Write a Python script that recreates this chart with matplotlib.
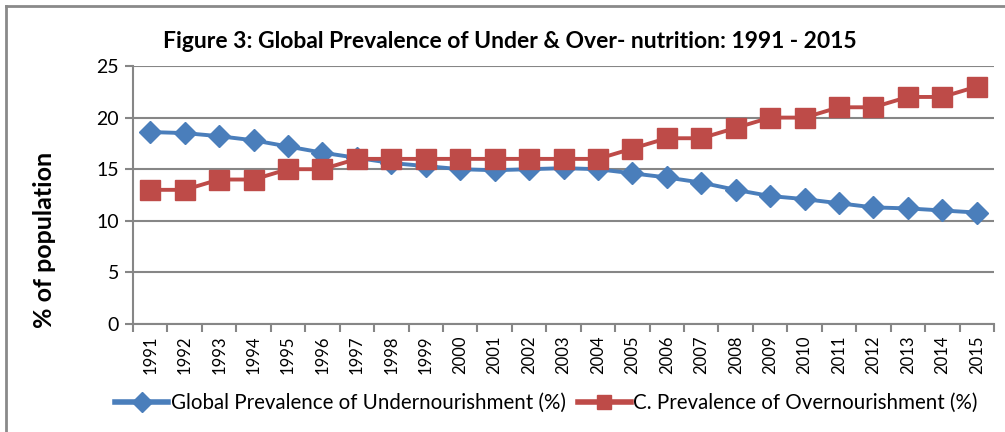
import matplotlib
matplotlib.use("Agg")
import matplotlib.pyplot as plt
from matplotlib.lines import Line2D

years = [str(y) for y in range(1991, 2016)]
under = [18.6, 18.5, 18.2, 17.8, 17.2, 16.6, 16.1, 15.6, 15.3, 15.0, 14.9, 15.0, 15.1,
         15.0, 14.6, 14.2, 13.7, 13.0, 12.4, 12.1, 11.7, 11.3, 11.2, 11.0, 10.8]
over = [13, 13, 14, 14, 15, 15, 16, 16, 16, 16, 16, 16, 16, 16, 17, 18, 18, 19, 20, 20,
        21, 21, 22, 22, 23]
yticks = [0, 5, 10, 15, 20, 25]
title = "Figure 3: Global Prevalence of Under & Over- nutrition: 1991 - 2015"
ylabel = "% of population"
labels = ["Global Prevalence of Undernourishment (%)", "C. Prevalence of Overnourishment (%)"]

plt.rcParams['font.family'] = ['Lato', 'DejaVu Sans']

W, H = 1005, 432
fig = plt.figure(figsize=(W / 100, H / 100), dpi=100)
fig.patch.set_facecolor('white')

# outer border
fig.add_artist(Line2D([6 / W, 6 / W], [0, 1 - 6 / H], transform=fig.transFigure, color='#8a8a8a', lw=2))
fig.add_artist(Line2D([6 / W, 1], [1 - 6 / H, 1 - 6 / H], transform=fig.transFigure, color='#8a8a8a', lw=2))

ax = fig.add_axes([133 / W, 1 - 324 / H, (994 - 133) / W, (324 - 66) / H])
x = list(range(len(years)))
blue = '#4A7EBB'
red = '#BE4B48'
ax.plot(x, under, color=blue, lw=2.8, marker='D', markersize=11, label=labels[0], zorder=3)
ax.plot(x, over, color=red, lw=2.8, marker='s', markersize=14, label=labels[1], zorder=4)

ax.set_xlim(-0.5, len(years) - 0.5)
ax.set_ylim(0, 25)
ax.set_yticks(yticks)
ax.set_yticklabels([str(t) for t in yticks], fontsize=14)
ax.set_xticks(x)
ax.set_xticklabels(years, rotation=90, fontsize=12)
ax.set_xticks([i - 0.5 for i in range(len(years) + 1)], minor=True)
ax.tick_params(axis='x', which='major', length=0, pad=8)
ax.tick_params(axis='x', which='minor', length=6, color='#868686', width=1.5)
ax.tick_params(axis='y', length=6, color='#868686', width=1.5, pad=4)
ax.yaxis.grid(True, color='#868686', lw=1.5)
ax.set_axisbelow(True)
for s in ['top', 'right']:
    ax.spines[s].set_visible(False)
for s in ['left', 'bottom']:
    ax.spines[s].set_color('#868686')
    ax.spines[s].set_linewidth(1.5)

fig.text(510 / W, 1 - 42 / H, title, ha='center', va='center', fontsize=16.5, fontweight='bold')
fig.text(45 / W, 1 - 240 / H, ylabel, ha='center', va='center', rotation=90, fontsize=18, fontweight='bold')

h, l = ax.get_legend_handles_labels()
leg = fig.legend(h, l, loc='center left', bbox_to_anchor=(115 / W, 1 - 403 / H), ncol=2, frameon=False,
                 fontsize=14.8, handlelength=2.6, handletextpad=0.1, columnspacing=0.6, borderaxespad=0, borderpad=0)
for lh in leg.legend_handles:
    lh.set_markersize(10)
    lh.set_linewidth(4)

fig.savefig('out.png', dpi=100)
